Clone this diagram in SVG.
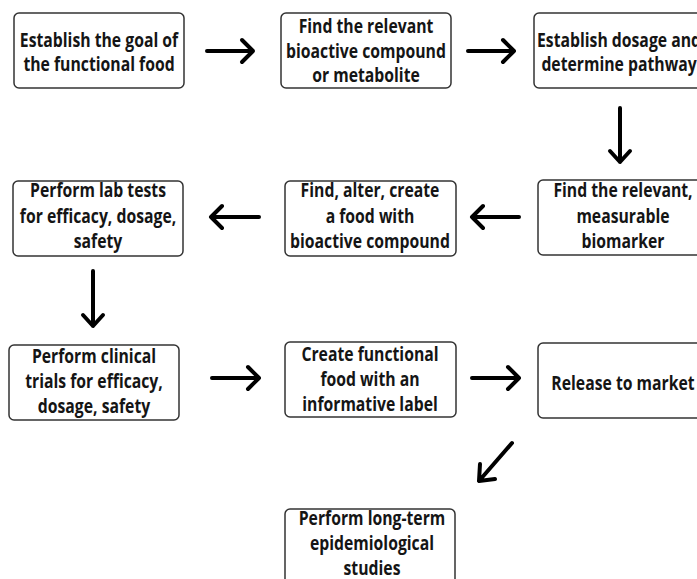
<svg xmlns="http://www.w3.org/2000/svg" width="697" height="579" viewBox="0 0 697 579">
  <style>
    .box { fill: #ffffff; stroke: #333333; stroke-width: 1.5; }
    .lbl { font-family: "Open Sans", "Noto Sans", "Liberation Sans", sans-serif; font-weight: 700; font-size: 19px; fill: #151515; text-anchor: middle; }
    .arr { fill: none; stroke: #000000; stroke-width: 4; stroke-linecap: round; stroke-linejoin: round; }
  </style>
  <rect width="697" height="579" fill="#ffffff"/>

  <!-- process steps; labels are narrowed horizontally around each box centre -->
  <g id="goal">
    <rect class="box" x="14" y="13" width="170" height="75" rx="5"/>
    <g transform="matrix(0.83 0 0 1 99 0)">
      <text class="lbl" x="0" y="47">Establish the goal of</text>
      <text class="lbl" x="0" y="71">the functional food</text>
    </g>
  </g>
  <g id="compound">
    <rect class="box" x="281" y="13" width="170" height="75" rx="5"/>
    <g transform="matrix(0.83 0 0 1 366 0)">
      <text class="lbl" x="0" y="33">Find the relevant</text>
      <text class="lbl" x="0" y="58">bioactive compound</text>
      <text class="lbl" x="0" y="82">or metabolite</text>
    </g>
  </g>
  <g id="dosage">
    <rect class="box" x="534" y="13" width="170" height="75" rx="5"/>
    <g transform="matrix(0.83 0 0 1 619 0)">
      <text class="lbl" x="0" y="47">Establish dosage and</text>
      <text class="lbl" x="0" y="71">determine pathway</text>
    </g>
  </g>
  <g id="biomarker">
    <rect class="box" x="538" y="180" width="170" height="75" rx="5"/>
    <g transform="matrix(0.83 0 0 1 623 0)">
      <text class="lbl" x="0" y="197">Find the relevant,</text>
      <text class="lbl" x="0" y="223">measurable</text>
      <text class="lbl" x="0" y="248">biomarker</text>
    </g>
  </g>
  <g id="food">
    <rect class="box" x="285" y="181" width="171" height="75" rx="5"/>
    <g transform="matrix(0.83 0 0 1 370 0)">
      <text class="lbl" x="0" y="197">Find, alter, create</text>
      <text class="lbl" x="0" y="223">a food with</text>
      <text class="lbl" x="0" y="248">bioactive compound</text>
    </g>
  </g>
  <g id="labtests">
    <rect class="box" x="13" y="181" width="170" height="75" rx="5"/>
    <g transform="matrix(0.83 0 0 1 98 0)">
      <text class="lbl" x="0" y="197">Perform lab tests</text>
      <text class="lbl" x="0" y="223">for efficacy, dosage,</text>
      <text class="lbl" x="0" y="248">safety</text>
    </g>
  </g>
  <g id="clinical">
    <rect class="box" x="9" y="345" width="170" height="75" rx="5"/>
    <g transform="matrix(0.83 0 0 1 94 0)">
      <text class="lbl" x="0" y="363">Perform clinical</text>
      <text class="lbl" x="0" y="388">trials for efficacy,</text>
      <text class="lbl" x="0" y="413">dosage, safety</text>
    </g>
  </g>
  <g id="label">
    <rect class="box" x="285" y="342" width="171" height="75" rx="5"/>
    <g transform="matrix(0.83 0 0 1 370 0)">
      <text class="lbl" x="0" y="361">Create functional</text>
      <text class="lbl" x="0" y="386">food with an</text>
      <text class="lbl" x="0" y="411">informative label</text>
    </g>
  </g>
  <g id="market">
    <rect class="box" x="538" y="343" width="170" height="75" rx="5"/>
    <g transform="matrix(0.83 0 0 1 623 0)">
      <text class="lbl" x="0" y="390">Release to market</text>
    </g>
  </g>
  <g id="epidemiology">
    <rect class="box" x="285" y="509" width="170" height="80" rx="5"/>
    <g transform="matrix(0.83 0 0 1 372 0)">
      <text class="lbl" x="0" y="525">Perform long-term</text>
      <text class="lbl" x="0" y="550">epidemiological</text>
      <text class="lbl" x="0" y="575">studies</text>
    </g>
  </g>

  <!-- connectors -->
  <g id="connectors">
    <path class="arr" d="M207 51 H253 M242 40 L253 51 L242 62"/>
    <path class="arr" d="M468 51 H514 M503 40 L514 51 L503 62"/>
    <path class="arr" d="M620 108 V162 M610 151 L620 162 L630 151"/>
    <path class="arr" d="M519 217 H472 M483 206 L472 217 L483 228"/>
    <path class="arr" d="M259 217 H211 M222 206 L211 217 L222 228"/>
    <path class="arr" d="M93 271 V326 M83 315 L93 326 L103 315"/>
    <path class="arr" d="M212 378 H259 M248 367 L259 378 L248 389"/>
    <path class="arr" d="M472 378 H519 M508 367 L519 378 L508 389"/>
    <path class="arr" d="M512 443 L479 481 M480 464 L479 481 L495 479"/>
  </g>
</svg>
